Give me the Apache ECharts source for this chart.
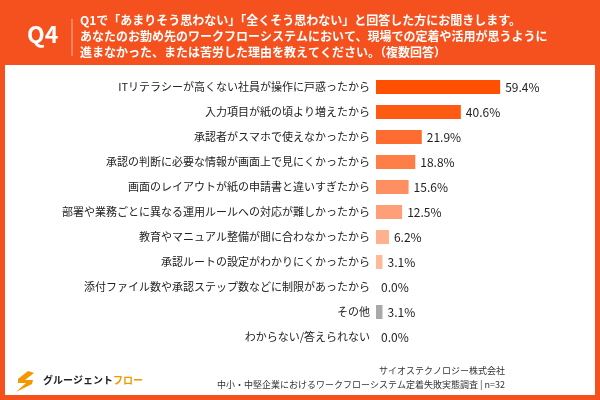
<!DOCTYPE html>
<html>
<head>
<meta charset="utf-8">
<script src="https://cdn.jsdelivr.net/npm/echarts@6/dist/echarts.min.js"></script>
<style>
  html, body { margin: 0; padding: 0; background: #f4511e; }
  #chart { width: 600px; height: 400px; }
</style>
</head>
<body>
<div id="chart"></div>
<script>
var categories = [
    'ITリテラシーが高くない社員が操作に戸惑ったから',
    '入力項目が紙の頃より増えたから',
    '承認者がスマホで使えなかったから',
    '承認の判断に必要な情報が画面上で見にくかったから',
    '画面のレイアウトが紙の申請書と違いすぎたから',
    '部署や業務ごとに異なる運用ルールへの対応が難しかったから',
    '教育やマニュアル整備が間に合わなかったから',
    '承認ルートの設定がわかりにくかったから',
    '添付ファイル数や承認ステップ数などに制限があったから',
    'その他',
    'わからない/答えられない'
];
var values = [59.4, 40.6, 21.9, 18.8, 15.6, 12.5, 6.2, 3.1, 0.0, 3.1, 0.0];
var barColors = ['#ff4f00', '#ff5a14', '#ff6c30', '#ff7e48', '#ff8f60', '#ff9f78', '#ffb08f', '#ffb898', '#ffb898', '#a9a9a9', '#a9a9a9'];

var questionLines = [
    'Q1で「あまりそう思わない」「全くそう思わない」と回答した方にお聞きします。',
    'あなたのお勤め先のワークフローシステムにおいて、現場での定着や活用が思うように',
    '進まなかった、または苦労した理由を教えてください。（複数回答）'
];

var font = '"Noto Sans CJK JP", "Noto Sans", sans-serif';

var myChart = echarts.init(document.getElementById('chart'));

var option = {
    backgroundColor: '#f4511e',
    textStyle: { fontFamily: font },
    graphic: [
        { type: 'rect', z: -1, shape: { x: 5, y: 65, width: 590, height: 330 }, style: { fill: '#ffffff' } },
        { type: 'text', x: 27, y: 23, style: { text: 'Q4', fill: '#fff', font: 'bold 23px ' + font } },
        { type: 'line', shape: { x1: 72, y1: 19, x2: 72, y2: 56 }, style: { stroke: 'rgba(255,255,255,0.6)', lineWidth: 1 } },
        { type: 'text', x: 80, y: 12, style: { text: questionLines.join('\n'), fill: '#fff', font: 'bold 12px ' + font, lineHeight: 16 } },
        // logo mark
        { type: 'polygon', shape: { points: [[28, 371], [18, 379], [18, 383], [26, 383], [16, 392], [32, 384], [33, 380], [25, 380], [34, 373]] }, style: { fill: '#f39800' } },
        { type: 'text', x: 43, y: 375, style: { rich: {
            a: { fill: '#222', font: 'bold 10px ' + font },
            b: { fill: '#f39800', font: 'bold 10px ' + font }
          }, text: '{a|グルージェント}{b|フロー}' } },
        { type: 'text', x: 505, y: 366, style: { text: 'サイオステクノロジー株式会社', fill: '#333', font: '9px ' + font, align: 'right' } },
        { type: 'text', x: 505, y: 380, style: { text: '中小・中堅企業におけるワークフローシステム定着失敗実態調査 | n=32', fill: '#333', font: '9px ' + font, align: 'right' } }
    ],
    grid: { left: 376, top: 74.5, width: 209, height: 275 },
    xAxis: { type: 'value', min: 0, max: 100, show: false },
    yAxis: {
        type: 'category',
        data: categories,
        inverse: true,
        axisLine: { show: false },
        axisTick: { show: false },
        axisLabel: { color: '#222', fontSize: 11, margin: 6 }
    },
    series: [{
        type: 'bar',
        barWidth: 14,
        data: values.map(function (v, i) {
            return { value: v, itemStyle: { color: barColors[i] } };
        }),
        label: {
            show: true,
            position: 'right',
            distance: 5,
            color: '#222',
            fontSize: 12,
            formatter: function (p) { return p.value.toFixed(1) + '%'; }
        },
        animation: false
    }]
};

myChart.setOption(option);
</script>
</body>
</html>
